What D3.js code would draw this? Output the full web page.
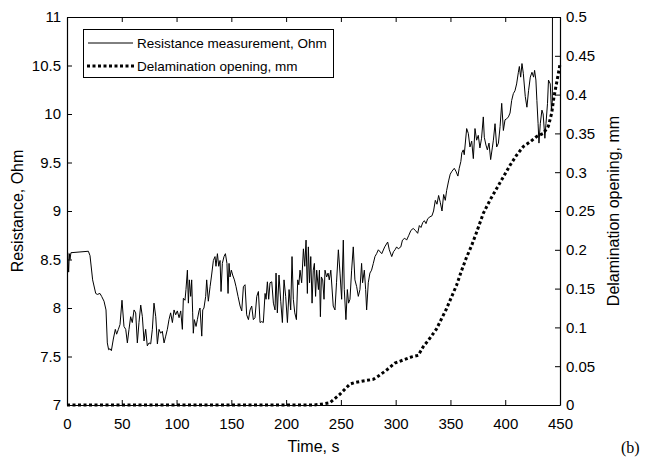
<!DOCTYPE html>
<html>
<head>
<meta charset="utf-8">
<script src="https://cdn.jsdelivr.net/npm/d3@7.9.0/dist/d3.min.js"></script>
<style>
  body { margin: 0; background: #fff; }
  svg { display: block; }
  text { font-family: "Liberation Sans", Arial, sans-serif; fill: #000; }
</style>
</head>
<body>
<div id="chart"></div>
<script>
// resistance measurement (time in s, resistance in Ohm)
const resTime = [0, 0.6, 1.5, 2.1, 2.7, 3.6, 19.5, 21, 23.4, 26.2, 27.7, 30.1, 31.6, 33.8, 35.6, 36.8, 38, 39.3, 40.5, 42.3,
  44.1, 45.3, 46.9, 48.4, 50.2, 52, 53.6, 55.1, 56.6, 58.1, 59.6, 61.2, 62.7, 64.2, 65.7, 67.3, 68.8, 70.3, 71.8, 73.3,
  74.9, 76.4, 77.9, 79.4, 81, 82.5, 84, 85.5, 87, 88.6, 90.1, 91.6, 93.1, 94.6, 96.2, 97.7, 99.2, 100.7, 102.3, 103.8,
  105.3, 106.2, 107.7, 108.6, 109.9, 110.8, 111.7, 112.9, 113.8, 114.7, 115.3, 116.2, 117.8, 119, 120.5, 121.4, 123, 123.9, 125, 126.6,
  127.5, 129, 130.6, 132, 133.6, 135.1, 136, 137.3, 138.5, 139.7, 140.6, 141.8, 143.3, 144.6, 146, 147, 147.9, 148.8, 150, 151.2,
  152.8, 154.3, 156.1, 158, 159.5, 161, 162.5, 164, 165.6, 167.1, 168.6, 170.1, 171.6, 173.2, 174.7, 176.2, 177.7, 179.2, 180.8, 181.7,
  182.9, 184.1, 185.3, 186.9, 188.4, 189.9, 190.8, 192, 193.5, 195.1, 196.6, 198.1, 199.6, 201.2, 202.7, 204.2, 205.4, 206.6, 207.9, 209.4,
  210.6, 211.6, 212.7, 214.2, 215.8, 217, 218.2, 219.4, 220.3, 221.4, 222.5, 223.7, 224.8, 225.8, 226.9, 227.9, 229.5, 230.4, 231.3, 232.2,
  233.4, 234.6, 235.5, 237, 238.3, 239.4, 240.8, 243, 244.6, 246, 247.7, 249.2, 250.7, 252.2, 253.1, 254.6, 255.9, 257, 258.3, 259.8,
  261.3, 262.8, 264.4, 265.9, 267.4, 268.9, 269.8, 271.4, 272.6, 273.5, 275, 276.5, 278, 279.6, 281.1, 282.6, 284.2, 287.3, 290, 292.7,
  294.2, 296.4, 298, 299.4, 300.9, 302.4, 304.7, 306.2, 308.3, 310, 312, 313.9, 316, 318, 320.1, 321.6, 323.1, 324.7, 326.2, 327.7,
  329.2, 331.3, 333.1, 334.6, 336.2, 337.7, 339.2, 340.7, 342.3, 343.8, 345.3, 346.5, 348.3, 349.8, 351.4, 353.5, 355, 356.8, 358, 359.5,
  360.4, 361.7, 362.6, 364.8, 366.3, 367.8, 369.4, 370.9, 372.4, 373.9, 375.4, 376.9, 378.4, 380, 380.9, 382.4, 383.7, 385.2, 386.7, 388.2,
  389.2, 390.7, 392.2, 393.8, 395.3, 396.8, 398.3, 399.8, 401.3, 402.9, 404.4, 405.9, 407.4, 408.9, 410.4, 412, 412.9, 414.1, 415.3, 416.5,
  418.3, 419.8, 421.3, 422.9, 424.4, 425.9, 426.8, 428, 428.9, 430, 430.8, 432, 433.5, 434.6, 436.2, 437.2, 438.6, 439.5, 441.1, 442.2,
  443, 443.2];
const resValue = [8.25, 8.57, 8.37, 8.56, 8.5, 8.57, 8.585, 8.54, 8.29, 8.15, 8.14, 8.15, 8.12, 8.07, 7.98, 7.64, 7.57, 7.58, 7.56, 7.68,
  7.78, 7.73, 7.78, 7.83, 8.08, 7.81, 7.78, 7.64, 7.78, 7.91, 7.85, 7.98, 7.95, 7.64, 7.85, 8.03, 7.91, 7.66, 7.78, 7.61,
  7.64, 7.63, 7.78, 8.05, 7.91, 7.63, 7.78, 7.74, 7.76, 7.64, 7.71, 7.78, 7.88, 7.95, 7.85, 7.98, 7.93, 7.97, 7.9, 7.97,
  7.78, 8.10, 8.08, 8.19, 8.39, 8.05, 8.29, 8.12, 8.29, 7.95, 7.74, 7.88, 7.81, 7.88, 7.97, 8.0, 7.71, 7.98, 8.0, 8.12,
  8.29, 8.07, 8.22, 8.34, 8.49, 8.53, 8.43, 8.56, 8.43, 8.49, 8.17, 8.46, 8.53, 8.56, 8.46, 8.15, 8.46, 8.32, 8.39, 8.34,
  8.29, 8.22, 8.12, 8.02, 7.97, 8.22, 8.24, 7.93, 7.88, 7.98, 8.02, 7.88, 7.90, 8.12, 8.17, 7.85, 7.86, 7.85, 8.15, 8.09,
  8.27, 8.09, 8.26, 8.27, 8.05, 7.98, 8.36, 7.95, 8.34, 8.07, 7.85, 8.29, 8.12, 7.85, 8.19, 7.98, 8.53, 8.09, 7.95, 7.88,
  8.29, 8.24, 8.39, 8.26, 8.61, 8.43, 8.70, 8.15, 8.63, 8.26, 8.53, 8.05, 8.39, 8.46, 8.12, 8.39, 8.19, 8.39, 7.91, 8.32,
  8.29, 8.09, 8.39, 8.32, 8.36, 8.29, 8.39, 8.02, 7.98, 8.26, 8.6, 8.36, 8.09, 8.70, 8.19, 7.88, 8.19, 8.05, 8.09, 8.39,
  8.63, 8.29, 8.22, 8.12, 8.19, 8.46, 8.26, 8.39, 8.19, 7.98, 8.26, 8.36, 8.39, 8.46, 8.53, 8.56, 8.60, 8.56, 8.63, 8.68,
  8.60, 8.53, 8.58, 8.60, 8.63, 8.61, 8.63, 8.70, 8.72, 8.70, 8.75, 8.80, 8.82, 8.80, 8.77, 8.85, 8.83, 8.88, 8.90, 8.87,
  8.92, 8.94, 8.95, 9.00, 9.11, 9.07, 9.16, 9.09, 9.00, 9.17, 9.11, 9.21, 9.31, 9.38, 9.41, 9.44, 9.41, 9.36, 9.44, 9.51,
  9.60, 9.63, 9.58, 9.85, 9.80, 9.66, 9.72, 9.54, 9.85, 9.73, 9.78, 9.65, 9.75, 9.97, 9.76, 9.68, 9.63, 9.70, 9.53, 9.65,
  9.73, 9.90, 9.66, 9.70, 9.87, 10.11, 9.83, 9.94, 9.95, 9.97, 10.01, 10.14, 10.21, 10.24, 10.31, 10.43, 10.49, 10.38, 10.52, 10.42,
  10.18, 10.07, 10.24, 10.38, 10.43, 10.38, 10.45, 10.35, 10.14, 9.90, 9.70, 9.90, 10.04, 10.0, 9.75, 9.90, 10.11, 10.35, 10.31, 10.04,
  10.14, 11.6];

// delamination opening (time in s, opening in mm)
const delTime = [0, 225, 232, 240, 249.2, 258.3, 262.8, 270.4, 279.5, 284, 291.7, 299.3, 306.9, 314.5, 320.6, 325.1, 331.2, 337.3, 341.8, 346.4,
  350.9, 355.5, 360.1, 364.6, 369.2, 373.7, 380, 386.1, 392.2, 398.3, 404.4, 410.4, 416.5, 422.6, 428.7, 434.8, 439.3, 442.4, 444.5, 446.9,
  449.4, 450];
const delValue = [0, 0, 0.001, 0.003, 0.014, 0.027, 0.029, 0.031, 0.033, 0.037, 0.045, 0.054, 0.058, 0.062, 0.064, 0.075, 0.086, 0.098, 0.111, 0.124,
  0.139, 0.154, 0.173, 0.190, 0.205, 0.222, 0.247, 0.264, 0.279, 0.294, 0.309, 0.322, 0.333, 0.339, 0.346, 0.350, 0.359, 0.376, 0.397, 0.415,
  0.434, 0.44];

const xTicks = [0, 50, 100, 150, 200, 250, 300, 350, 400, 450];
const leftTicks = [7, 7.5, 8, 8.5, 9, 9.5, 10, 10.5, 11];
const rightTicks = [0, 0.05, 0.1, 0.15, 0.2, 0.25, 0.3, 0.35, 0.4, 0.45, 0.5];

const legendLabels = ['Resistance measurement, Ohm', 'Delamination opening, mm'];

const width = 657;
const height = 462;
const margin = { top: 17, right: 97, bottom: 57, left: 67 };

const svg = d3
  .select('#chart')
  .append('svg')
  .attr('width', width)
  .attr('height', height);

const xScale = d3.scaleLinear().domain([0, 450]).range([margin.left, width - margin.right]);
const yLeft = d3.scaleLinear().domain([7, 11]).range([height - margin.bottom, margin.top]);
const yRight = d3.scaleLinear().domain([0, 0.5]).range([height - margin.bottom, margin.top]);

// clip for the resistance line (it shoots off the top at the end)
svg.append('clipPath').attr('id', 'plot-clip')
  .append('rect')
  .attr('x', margin.left)
  .attr('y', margin.top)
  .attr('width', xScale(450) - xScale(0))
  .attr('height', yLeft(7) - yLeft(11));

// axes with inward ticks
const tickFont = '15px';

const xAxis = svg.append('g')
  .attr('transform', `translate(0, ${yLeft(7)})`)
  .call(d3.axisBottom(xScale).tickValues(xTicks).tickSizeInner(-5).tickSizeOuter(0).tickPadding(13).tickFormat(d3.format('d')));

const xTop = svg.append('g')
  .attr('transform', `translate(0, ${yLeft(11)})`)
  .call(d3.axisTop(xScale).tickValues(xTicks).tickSizeInner(-5).tickSizeOuter(0).tickFormat(''));

const leftAxis = svg.append('g')
  .attr('transform', `translate(${xScale(0)}, 0)`)
  .call(d3.axisLeft(yLeft).tickValues(leftTicks).tickSizeInner(-5).tickSizeOuter(0).tickPadding(6).tickFormat((d) => String(d)));

const rightAxis = svg.append('g')
  .attr('transform', `translate(${xScale(450)}, 0)`)
  .call(d3.axisRight(yRight).tickValues(rightTicks).tickSizeInner(-5).tickSizeOuter(0).tickPadding(6).tickFormat((d) => String(d)));

[xAxis, xTop, leftAxis, rightAxis].forEach((g) => {
  g.select('.domain').attr('stroke', '#000').attr('stroke-width', 1.2);
  g.selectAll('.tick line').attr('stroke', '#000').attr('stroke-width', 1);
  g.selectAll('.tick text')
    .style('font-family', '"Liberation Sans", Arial, sans-serif')
    .style('font-size', tickFont)
    .attr('fill', '#000');
});

// resistance line
const resData = resTime.map((t, i) => ({ t, v: resValue[i] }));
const resLine = d3.line().x((d) => xScale(d.t)).y((d) => yLeft(d.v));
svg.append('path')
  .datum(resData)
  .attr('clip-path', 'url(#plot-clip)')
  .attr('fill', 'none')
  .attr('stroke', '#000')
  .attr('stroke-width', 1)
  .attr('d', resLine);

// delamination (dotted)
const delData = delTime.map((t, i) => ({ t, v: delValue[i] }));
const delLine = d3.line().x((d) => xScale(d.t)).y((d) => yRight(d.v));
svg.append('path')
  .datum(delData)
  .attr('fill', 'none')
  .attr('stroke', '#000')
  .attr('stroke-width', 3)
  .attr('stroke-dasharray', '3,2.5')
  .attr('d', delLine);

// axis titles
svg.append('text')
  .attr('x', (xScale(0) + xScale(450)) / 2)
  .attr('y', 452)
  .attr('text-anchor', 'middle')
  .style('font-size', '16px')
  .text('Time, s');

svg.append('text')
  .attr('transform', `translate(23, ${(yLeft(7) + yLeft(11)) / 2}) rotate(-90)`)
  .attr('text-anchor', 'middle')
  .style('font-size', '16px')
  .text('Resistance, Ohm');

svg.append('text')
  .attr('transform', `translate(619, ${(yLeft(7) + yLeft(11)) / 2}) rotate(-90)`)
  .attr('text-anchor', 'middle')
  .style('font-size', '16px')
  .text('Delamination opening, mm');

// panel label
svg.append('text')
  .attr('x', 621)
  .attr('y', 453)
  .style('font-family', '"Liberation Serif", "Times New Roman", serif')
  .style('font-size', '16px')
  .text('(b)');

// legend
const legend = svg.append('g');
legend.append('rect')
  .attr('x', 83.5)
  .attr('y', 29.5)
  .attr('width', 250)
  .attr('height', 48)
  .attr('fill', '#fff')
  .attr('stroke', '#000')
  .attr('stroke-width', 1);

legend.append('line')
  .attr('x1', 88).attr('x2', 133)
  .attr('y1', 43).attr('y2', 43)
  .attr('stroke', '#000').attr('stroke-width', 1);

legend.append('line')
  .attr('x1', 87).attr('x2', 135)
  .attr('y1', 66).attr('y2', 66)
  .attr('stroke', '#000').attr('stroke-width', 3)
  .attr('stroke-dasharray', '3,2.5');

legend.selectAll('text.lbl')
  .data(legendLabels)
  .join('text')
  .attr('class', 'lbl')
  .attr('x', 137)
  .attr('y', (d, i) => 48 + i * 23)
  .style('font-size', '13.5px')
  .text((d) => d);
</script>
</body>
</html>
